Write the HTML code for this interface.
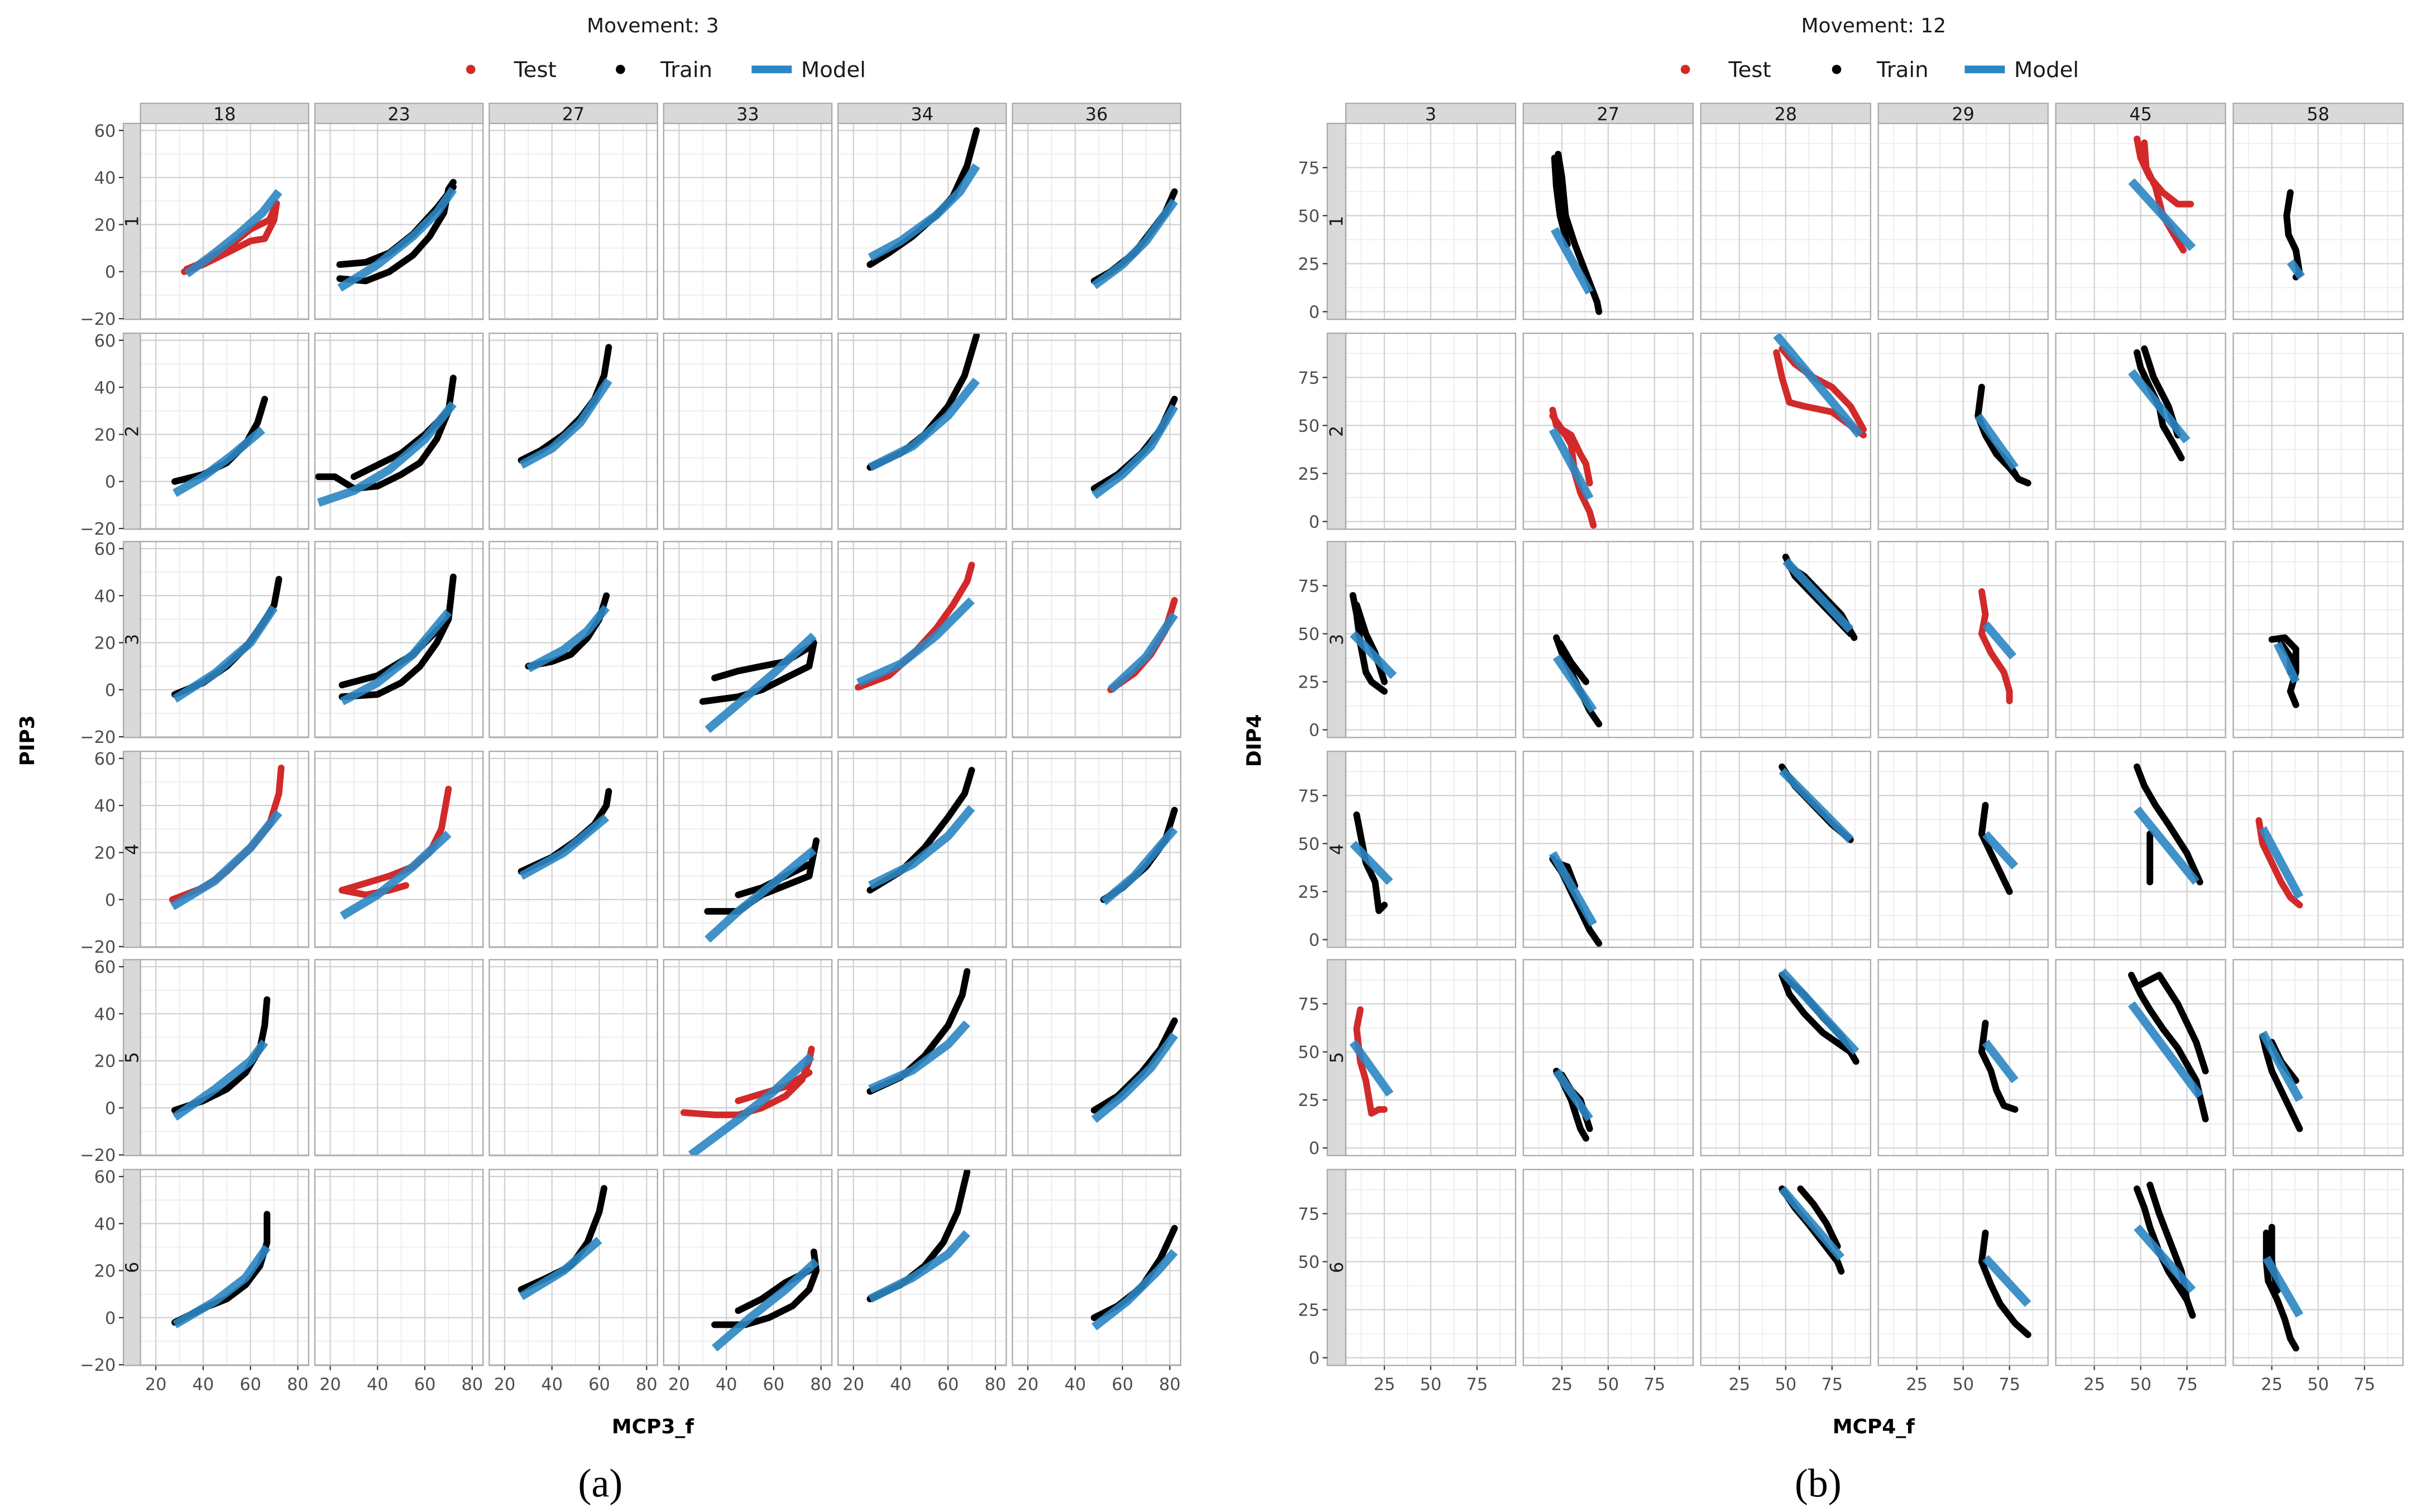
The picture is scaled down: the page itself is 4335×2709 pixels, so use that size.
<!DOCTYPE html>
<html><head><meta charset="utf-8"><style>
html,body{margin:0;padding:0;background:#fff;}
svg{display:block;}
text{font-family:"DejaVu Sans","Liberation Sans",sans-serif;}
text.cap{font-family:"Liberation Serif",serif;}
</style></head><body>
<svg id="fig" xmlns="http://www.w3.org/2000/svg" width="4335" height="2709" viewBox="0 0 1568 980" preserveAspectRatio="none">
<rect x="0" y="0" width="1568" height="980" fill="#fff"/>
<g id="root"></g>
</svg>
<script>
// ---------- data ----------
const leftCols = ['18','23','27','33','34','36'];
const rightCols = ['3','27','28','29','45','58'];
const rowLabels = ['1','2','3','4','5','6'];
const leftYTicks = [-20,0,20,40,60];
const leftXTicks = [20,40,60,80];
const rightYTicks = [0,25,50,75];
const rightXTicks = [25,50,75];

// left chart (Movement 3): key "row-col"
const leftTrain = {
 '1-23':[[[24,-3],[35,-4],[45,0],[55,7],[62,15],[68,25],[70,35],[72,38]],[[24,3],[35,4],[45,8],[55,16],[65,27],[72,36]]],
 '1-34':[[[27,3],[35,8],[45,15],[55,24],[62,32],[68,45],[72,60]]],
 '1-36':[[[48,-4],[55,0],[65,8],[72,17],[78,25],[82,34]]],
 '2-18':[[[28,0],[40,3],[50,8],[58,16],[63,25],[66,35]]],
 '2-23':[[[15,2],[22,2],[30,-3],[40,-2],[50,3],[58,8],[65,18],[70,30],[72,44]],[[30,2],[40,7],[50,12],[60,20],[70,30]]],
 '2-27':[[[27,9],[35,13],[45,20],[52,27],[58,35],[62,45],[64,57]]],
 '2-34':[[[27,6],[40,12],[50,20],[60,32],[67,45],[72,62]]],
 '2-36':[[[48,-3],[58,3],[68,12],[76,22],[82,35]]],
 '3-18':[[[28,-2],[40,3],[50,10],[58,18],[65,28],[70,36],[72,47]]],
 '3-23':[[[25,-3],[40,-2],[50,3],[58,10],[65,20],[70,30],[72,48]],[[25,2],[40,6],[55,15],[70,30]]],
 '3-27':[[[30,10],[40,12],[48,15],[55,22],[60,30],[63,40]]],
 '3-33':[[[30,-5],[45,-3],[55,0],[65,5],[75,10],[77,20]],[[35,5],[45,8],[55,10],[65,12],[75,18]]],
 '4-27':[[[27,12],[40,18],[50,25],[58,32],[63,40],[64,46]]],
 '4-33':[[[32,-5],[45,-5],[55,2],[65,6],[75,10],[78,25]],[[45,2],[55,5],[65,10],[75,15]]],
 '4-34':[[[27,4],[40,12],[50,22],[60,35],[67,45],[70,55]]],
 '4-36':[[[52,0],[60,5],[70,14],[78,25],[82,38]]],
 '5-18':[[[28,-1],[40,3],[50,8],[58,15],[64,25],[66,35],[67,46]]],
 '5-34':[[[27,7],[40,13],[50,22],[60,35],[66,48],[68,58]]],
 '5-36':[[[48,-1],[58,5],[68,15],[76,25],[82,37]]],
 '6-18':[[[28,-2],[40,4],[50,8],[58,14],[64,22],[67,32],[67,44]]],
 '6-27':[[[27,12],[38,17],[48,22],[55,32],[60,45],[62,55]]],
 '6-33':[[[35,-3],[48,-3],[58,0],[68,5],[75,12],[78,20],[77,28]],[[45,3],[55,8],[65,15],[75,20]]],
 '6-34':[[[27,8],[40,14],[50,22],[58,32],[64,45],[68,62]]],
 '6-36':[[[48,0],[58,5],[68,13],[76,25],[82,38]]]
};
const leftTest = {
 '1-18':[[[32,0],[40,3],[50,8],[60,13],[66,14],[70,22],[71,29],[68,22],[60,18],[50,10],[40,4],[33,1]]],
 '3-34':[[[22,1],[35,6],[45,15],[55,26],[62,36],[68,46],[70,53]]],
 '3-36':[[[55,0],[65,7],[72,15],[78,25],[82,38]]],
 '4-18':[[[27,0],[40,5],[50,12],[60,22],[68,32],[72,45],[73,56]]],
 '4-23':[[[25,4],[35,2],[45,4],[52,6]],[[25,4],[35,7],[45,10],[55,14],[62,20],[67,30],[70,47]]],
 '5-33':[[[22,-2],[35,-3],[45,-3],[55,0],[65,5],[72,12],[75,20],[76,25]],[[45,3],[55,6],[65,9],[75,15]]]
};
const leftModel = {
 '1-18':[[33,-1],[45,8],[55,16],[65,25],[72,34]],
 '1-23':[[24,-7],[40,3],[55,15],[65,25],[72,35]],
 '1-34':[[27,6],[40,13],[55,24],[65,34],[72,45]],
 '1-36':[[48,-6],[60,3],[70,13],[82,30]],
 '2-18':[[28,-5],[40,2],[52,11],[65,22]],
 '2-23':[[15,-9],[30,-4],[45,5],[60,18],[72,33]],
 '2-27':[[27,7],[40,14],[52,25],[64,43]],
 '2-34':[[27,6],[45,15],[60,28],[72,43]],
 '2-36':[[48,-6],[60,3],[72,15],[82,32]],
 '3-18':[[28,-4],[45,7],[60,20],[70,35]],
 '3-23':[[25,-5],[40,3],[55,15],[70,33]],
 '3-27':[[30,9],[45,17],[55,25],[63,35]],
 '3-33':[[32,-17],[45,-6],[60,7],[77,23]],
 '3-34':[[22,3],[40,11],[55,23],[70,38]],
 '3-36':[[55,0],[70,14],[82,32]],
 '4-18':[[27,-3],[45,8],[60,22],[72,37]],
 '4-23':[[25,-7],[40,2],[55,14],[70,28]],
 '4-27':[[27,10],[45,20],[63,35]],
 '4-33':[[32,-17],[45,-5],[60,7],[77,21]],
 '4-34':[[27,6],[45,15],[60,27],[70,39]],
 '4-36':[[52,-1],[65,10],[82,30]],
 '5-18':[[28,-4],[45,8],[60,20],[66,28]],
 '5-33':[[25,-20],[45,-5],[60,7],[76,22]],
 '5-34':[[27,8],[45,16],[60,27],[68,36]],
 '5-36':[[48,-5],[60,5],[72,17],[82,31]],
 '6-18':[[28,-3],[45,7],[58,17],[67,30]],
 '6-27':[[27,9],[45,20],[60,33]],
 '6-33':[[35,-13],[50,0],[65,12],[78,24]],
 '6-34':[[27,8],[45,17],[60,27],[68,36]],
 '6-36':[[48,-4],[62,7],[75,20],[82,28]]
};

// right chart (Movement 12)
const rightTrain = {
 '1-27':[[[23,82],[25,70],[27,50],[32,35],[38,20],[44,5],[45,0]],[[21,80],[22,65],[24,50],[28,35]]],
 '1-58':[[[35,62],[33,50],[34,40],[38,32],[40,20],[38,18]]],
 '2-29':[[[60,70],[58,55],[62,45],[68,35],[75,28],[80,22],[85,20]],[[60,50],[65,40],[72,33],[78,25]]],
 '2-45':[[[48,88],[50,80],[55,70],[60,60],[62,50],[68,40],[72,33]],[[52,90],[57,75],[65,60],[70,45]]],
 '3-3':[[[8,70],[10,60],[12,45],[15,30],[18,25],[25,20]],[[10,65],[15,50],[20,40],[25,25]]],
 '3-27':[[[22,48],[25,40],[30,30],[35,20],[40,10],[45,3]],[[24,45],[30,35],[38,25]]],
 '3-28':[[[50,90],[55,80],[65,70],[75,60],[85,50]],[[52,85],[60,80],[70,70],[80,60],[87,48]]],
 '3-58':[[[25,47],[32,48],[38,42],[38,30],[35,20],[38,13]],[[30,45],[35,38],[35,30]]],
 '4-3':[[[10,65],[12,55],[15,40],[20,30],[22,15],[25,18]]],
 '4-27':[[[20,42],[25,35],[30,25],[35,15],[40,5],[45,-2]],[[22,40],[28,38],[32,28]]],
 '4-28':[[[48,90],[55,80],[65,70],[75,60],[85,52]]],
 '4-29':[[[62,70],[60,55],[65,45],[70,35],[75,25]]],
 '4-45':[[[48,90],[52,80],[58,70],[65,60],[75,45],[82,30]],[[55,55],[55,30]]],
 '5-27':[[[22,40],[25,35],[30,25],[35,10],[38,5]],[[25,38],[30,30],[35,25],[40,10]]],
 '5-28':[[[48,90],[52,80],[60,70],[70,60],[85,50]],[[50,88],[60,80],[70,68],[80,58],[88,45]]],
 '5-29':[[[62,65],[60,50],[65,40],[68,30],[72,22],[78,20]]],
 '5-45':[[[45,90],[50,80],[55,72],[62,62],[70,52],[80,35],[85,15]],[[50,85],[60,90],[70,75],[80,55],[85,40]]],
 '5-58':[[[20,58],[22,50],[25,40],[30,30],[35,20],[40,10]],[[25,55],[30,45],[38,35]]],
 '6-28':[[[48,88],[55,78],[62,70],[70,60],[78,50],[80,45]],[[58,88],[65,80],[72,70],[78,58]]],
 '6-29':[[[62,65],[60,50],[65,38],[70,28],[78,18],[85,12]]],
 '6-45':[[[48,88],[52,78],[55,68],[60,55],[65,45],[75,30],[78,22]],[[55,90],[60,75],[68,55],[72,45],[75,30]]],
 '6-58':[[[22,65],[22,50],[23,40],[28,30],[32,20],[35,10],[38,5]],[[25,68],[25,50],[28,35]]]
};
const rightTest = {
 '1-45':[[[48,90],[50,80],[55,70],[62,62],[70,56],[77,56]],[[52,88],[53,75],[58,65],[62,50],[68,40],[73,32]]],
 '2-27':[[[20,58],[22,50],[27,45],[30,40],[32,25],[35,15],[40,5],[42,-2]],[[20,55],[25,48],[30,45],[35,35],[38,30],[40,20]]],
 '2-28':[[[45,88],[48,75],[52,62],[60,60],[75,57],[85,50],[92,45]],[[48,90],[55,82],[65,75],[75,70],[85,60],[92,48]]],
 '3-29':[[[60,72],[62,60],[60,50],[65,40],[72,30],[75,20],[75,15]]],
 '4-58':[[[18,62],[20,50],[25,40],[30,30],[35,22],[40,18]]],
 '5-3':[[[12,72],[10,62],[12,45],[15,35],[18,18],[22,20],[25,20]]]
};
const rightModel = {
 '1-27':[[21,43],[40,10]], '1-45':[[45,68],[78,33]], '1-58':[[35,26],[41,18]],
 '2-27':[[20,48],[40,12]], '2-28':[[45,97],[90,45]], '2-29':[[58,55],[78,28]], '2-45':[[45,78],[75,42]],
 '3-3':[[8,50],[30,28]], '3-27':[[22,38],[42,10]], '3-28':[[50,88],[85,52]], '3-29':[[62,55],[77,38]], '3-58':[[28,45],[38,25]],
 '4-3':[[8,50],[28,30]], '4-27':[[20,45],[42,8]], '4-28':[[48,88],[85,52]], '4-29':[[62,55],[78,38]], '4-45':[[48,68],[80,30]], '4-58':[[20,58],[40,22]],
 '5-3':[[8,55],[28,28]], '5-27':[[22,40],[40,15]], '5-28':[[48,92],[88,50]], '5-29':[[62,55],[78,35]], '5-45':[[45,75],[82,27]], '5-58':[[20,60],[40,25]],
 '6-28':[[48,88],[80,52]], '6-29':[[62,52],[85,28]], '6-45':[[48,68],[78,35]], '6-58':[[22,52],[40,22]]
};

// ---------- drawing ----------
const NS='http://www.w3.org/2000/svg';
const root=document.getElementById('root');
function mk(tag,attrs,parent){const e=document.createElementNS(NS,tag);for(const k in attrs)e.setAttribute(k,attrs[k]);(parent||root).appendChild(e);return e;}
function txt(s,attrs,parent){const e=mk('text',attrs,parent);e.textContent=s;return e;}

const rowTops=[80,216,351,487,622,758];
const rowH=127;
const red='#d22a2a', blue='#2b86c3';

function drawChart(cfg){
  const g=mk('g',{});
  
  
  const t=txt(cfg.title,{x:cfg.cx,y:21,'font-size':13,'text-anchor':'middle',fill:'#1a1a1a'},g);
  
  
  const lg=mk('g',{},g);
  
  
  const L=cfg.legend;
  const e1=mk('circle',{cx:L[0],cy:45,r:3,fill:red},lg);
  
  
  txt('Test',{x:L[0]+28,y:50,'font-size':14,fill:'#1a1a1a'},lg);
  const e2=mk('circle',{cx:L[1],cy:45,r:3,fill:'#000'},lg);
  
  
  txt('Train',{x:L[1]+26,y:50,'font-size':14,fill:'#1a1a1a'},lg);
  const e3=mk('line',{x1:L[2],y1:45,x2:L[2]+26,y2:45,stroke:blue,'stroke-width':5},lg);
  
  
  txt('Model',{x:L[2]+32,y:50,'font-size':14,fill:'#1a1a1a'},lg);

  const [xmin,xmax]=cfg.xdom,[ymin,ymax]=cfg.ydom;
  cfg.colX.forEach((cx,ci)=>{
    const sx=v=>cx+(v-xmin)/(xmax-xmin)*cfg.colW;
    const s=mk('rect',{x:cx,y:67,width:cfg.colW,height:13,fill:'#d9d9d9',stroke:'#a8a8a8','stroke-width':0.8},g);
    
    
    txt(cfg.cols[ci],{x:cx+cfg.colW/2,y:78,'font-size':11.5,'text-anchor':'middle',fill:'#1a1a1a'},g);
    cfg.xticks.forEach(v=>{
      mk('line',{x1:sx(v),x2:sx(v),y1:rowTops[5]+rowH,y2:rowTops[5]+rowH+3,stroke:'#333','stroke-width':0.8},g);
      const tl=txt(String(v),{x:sx(v),y:rowTops[5]+rowH+16,'font-size':11,'text-anchor':'middle',fill:'#4d4d4d'},g);
      
      
    });
  });
  rowTops.forEach((ry,ri)=>{
    const sy=v=>ry+rowH-(v-ymin)/(ymax-ymin)*rowH;
    const rs=mk('rect',{x:cfg.stripX,y:ry,width:cfg.colX[0]-cfg.stripX,height:rowH,fill:'#d9d9d9',stroke:'#a8a8a8','stroke-width':0.8},g);
    
    
    const rx=(cfg.stripX+cfg.colX[0])/2+4, rcy=ry+rowH/2;
    txt(rowLabels[ri],{x:rx,y:rcy,'font-size':11.5,'text-anchor':'middle',fill:'#1a1a1a',transform:`rotate(-90 ${rx} ${rcy})`},g);
    cfg.yticks.forEach(v=>{
      mk('line',{x1:cfg.stripX-3,x2:cfg.stripX,y1:sy(v),y2:sy(v),stroke:'#333','stroke-width':0.8},g);
      const tl=txt(String(v).replace('-','\u2212'),{x:cfg.stripX-5,y:sy(v)+4,'font-size':11,'text-anchor':'end',fill:'#4d4d4d'},g);
      
      
    });
    cfg.colX.forEach((cx,ci)=>{
      const sx=v=>cx+(v-xmin)/(xmax-xmin)*cfg.colW;
      const key=(ri+1)+'-'+cfg.cols[ci];
      const p=mk('g',{},g);
      
      
      const clipId='c'+cfg.id+key;
      const cp=mk('clipPath',{id:clipId},p);
      mk('rect',{x:cx,y:ry,width:cfg.colW,height:rowH},cp);
      mk('rect',{x:cx,y:ry,width:cfg.colW,height:rowH,fill:'#fff'},p);
      cfg.xminor.forEach(v=>{if(v>xmin&&v<xmax)mk('line',{x1:sx(v),x2:sx(v),y1:ry,y2:ry+rowH,stroke:'#ebebeb','stroke-width':0.6},p);});
      cfg.yminor.forEach(v=>{if(v>ymin&&v<ymax)mk('line',{x1:cx,x2:cx+cfg.colW,y1:sy(v),y2:sy(v),stroke:'#ebebeb','stroke-width':0.6},p);});
      cfg.xticks.forEach(v=>mk('line',{x1:sx(v),x2:sx(v),y1:ry,y2:ry+rowH,stroke:'#d0d0d0','stroke-width':0.8},p));
      cfg.yticks.forEach(v=>mk('line',{x1:cx,x2:cx+cfg.colW,y1:sy(v),y2:sy(v),stroke:'#d0d0d0','stroke-width':0.8},p));
      const dg=mk('g',{'clip-path':`url(#${clipId})`},p);
      const pts=a=>a.map(q=>sx(q[0]).toFixed(1)+','+sy(q[1]).toFixed(1)).join(' ');
      (cfg.train[key]||[]).forEach(path=>{
        const l=mk('polyline',{points:pts(path),fill:'none',stroke:'#000','stroke-width':4.3,'stroke-linejoin':'round','stroke-linecap':'round'},dg);
        
        
      });
      (cfg.test[key]||[]).forEach(path=>{
        const l=mk('polyline',{points:pts(path),fill:'none',stroke:red,'stroke-width':4.3,'stroke-linejoin':'round','stroke-linecap':'round'},dg);
        
        
      });
      if(cfg.model[key]){
        const l=mk('polyline',{points:pts(cfg.model[key]),fill:'none',stroke:blue,'stroke-width':5.5,'stroke-opacity':0.9,'stroke-linejoin':'round'},dg);
        
        
      }
      mk('rect',{x:cx,y:ry,width:cfg.colW,height:rowH,fill:'none',stroke:'#a8a8a8','stroke-width':0.8},p);
    });
  });
  const yt=txt(cfg.ylab,{x:cfg.ylabX,y:480,'font-size':13,'font-weight':'bold','text-anchor':'middle',fill:'#000',transform:`rotate(-90 ${cfg.ylabX} 480)`},g);
  
  
  const xt=txt(cfg.xlab,{x:cfg.cx,y:929,'font-size':13,'font-weight':'bold','text-anchor':'middle',fill:'#000'},g);
  
  
  const cap=txt(cfg.cap,{x:cfg.capX,y:970,'font-size':26,'text-anchor':'middle',fill:'#000','class':'cap'},g);
  
  
}

drawChart({id:'L',name:'chart-movement-3',title:'Movement: 3',cx:423,legend:[305,402,487],
  cols:leftCols,colX:[91,204,317,430,543,656],colW:109,stripX:80,
  xdom:[13.5,84.6],ydom:[-20.3,63],xticks:leftXTicks,yticks:leftYTicks,
  xminor:[10,30,50,70],yminor:[-10,10,30,50],
  train:leftTrain,test:leftTest,model:leftModel,ylab:'PIP3',ylabX:22,xlab:'MCP3_f',cap:'(a)',capX:389});
drawChart({id:'R',name:'chart-movement-12',title:'Movement: 12',cx:1214,legend:[1092,1190,1273],
  cols:rightCols,colX:[872,987,1102,1217,1332,1447],colW:110,stripX:860,
  xdom:[4.2,95.8],ydom:[-4,98],xticks:rightXTicks,yticks:rightYTicks,
  xminor:[12.5,37.5,62.5,87.5],yminor:[12.5,37.5,62.5,87.5],
  train:rightTrain,test:rightTest,model:rightModel,ylab:'DIP4',ylabX:817,xlab:'MCP4_f',cap:'(b)',capX:1178});
</script>
</body></html>
